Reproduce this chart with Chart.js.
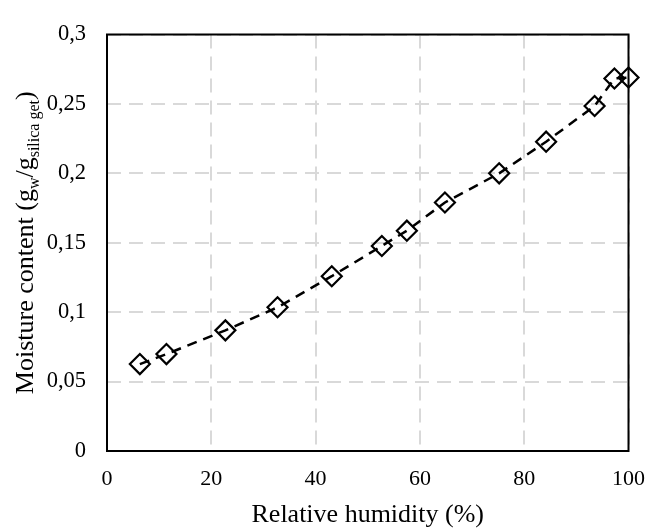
<!DOCTYPE html>
<html>
<head>
<meta charset="utf-8">
<script src="https://cdn.jsdelivr.net/npm/chart.js@4"></script>
<style>
  html, body { margin: 0; padding: 0; background: #fff; }
  #wrap { width: 660px; height: 528px; }
</style>
</head>
<body>
<div id="wrap"><canvas id="c" width="660" height="528"></canvas></div>
<script>
// Sorption isotherm of silica gel: relative humidity (%) vs. moisture content
const humidity = [6.3, 11.4, 22.7, 32.7, 43.1, 52.7, 57.5, 64.8, 75.2, 84.2, 93.5, 97.3, 100];
const moisture = [0.0626, 0.0698, 0.0869, 0.1035, 0.1259, 0.1477, 0.1587, 0.1790, 0.2000, 0.2228, 0.2485, 0.2683, 0.2690];

const xTickValues = [0, 20, 40, 60, 80, 100];
const xTickLabels = ['0', '20', '40', '60', '80', '100'];
const yTickValues = [0, 0.05, 0.1, 0.15, 0.2, 0.25, 0.3];
const yTickLabels = ['0', '0,05', '0,1', '0,15', '0,2', '0,25', '0,3'];

const xTitle = 'Relative humidity (%)';
// y-axis title pieces; "sub" pieces are drawn as subscripts
const yTitleParts = [
  { text: 'Moisture content (g', sub: false },
  { text: 'w', sub: true },
  { text: '/g', sub: false },
  { text: 'silica get', sub: true },
  { text: ')', sub: false }
];

const SERIF = '"Liberation Serif", "Times New Roman", serif';

// Black frame around the plotting area
const framePlugin = {
  id: 'frame',
  beforeDatasetsDraw(chart) {
    const { ctx, chartArea: a } = chart;
    ctx.save();
    ctx.strokeStyle = '#000';
    ctx.lineWidth = 2;
    ctx.strokeRect(a.left, a.top, a.right - a.left, a.bottom - a.top);
    ctx.restore();
  }
};

// Rotated y-axis title with subscripts
const yTitlePlugin = {
  id: 'yTitle',
  afterDraw(chart) {
    const { ctx, chartArea: a } = chart;
    const mainFont = '26px ' + SERIF;
    const subFont = '16px ' + SERIF;
    ctx.save();
    let total = 0;
    const widths = yTitleParts.map(p => {
      ctx.font = p.sub ? subFont : mainFont;
      const w = ctx.measureText(p.text).width;
      total += w;
      return w;
    });
    ctx.translate(33, (a.top + a.bottom) / 2);
    ctx.rotate(-Math.PI / 2);
    ctx.fillStyle = '#000';
    ctx.textAlign = 'left';
    ctx.textBaseline = 'alphabetic';
    let x = -total / 2;
    yTitleParts.forEach((p, i) => {
      ctx.font = p.sub ? subFont : mainFont;
      ctx.fillText(p.text, x, p.sub ? 6 : 0);
      x += widths[i];
    });
    ctx.restore();
  }
};

const gridColor = '#d9d9d9';

new Chart(document.getElementById('c'), {
  type: 'scatter',
  data: {
    datasets: [{
      data: humidity.map((h, i) => ({ x: h, y: moisture[i] })),
      showLine: true,
      borderColor: '#000',
      borderWidth: 2.5,
      borderDash: [10, 7],
      tension: 0,
      pointStyle: 'rectRot',
      pointRadius: 10,
      pointHoverRadius: 10,
      pointBorderWidth: 2.2,
      pointBorderColor: '#000',
      pointBackgroundColor: 'rgba(0,0,0,0)',
      clip: false
    }]
  },
  options: {
    responsive: false,
    animation: false,
    events: [],
    layout: { padding: { left: 0, top: 22, right: 30, bottom: 0 } },
    plugins: { legend: { display: false }, tooltip: { enabled: false } },
    scales: {
      x: {
        type: 'linear',
        min: 0,
        max: 100,
        afterBuildTicks: s => { s.ticks = xTickValues.map(v => ({ value: v })); },
        afterFit: s => { s.height = 77; },
        ticks: {
          padding: 15,
          color: '#000',
          maxRotation: 0,
          font: { family: SERIF, size: 22 },
          callback: (v, i) => xTickLabels[i]
        },
        grid: { color: gridColor, lineWidth: 2, drawTicks: false },
        border: { display: false, dash: [14, 8] },
        title: {
          display: true,
          text: xTitle,
          color: '#000',
          font: { family: SERIF, size: 26, lineHeight: 1.0 },
          padding: 0
        }
      },
      y: {
        type: 'linear',
        min: 0,
        max: 0.3,
        afterBuildTicks: s => { s.ticks = yTickValues.map(v => ({ value: v })); },
        afterFit: s => { s.width = 107; },
        ticks: {
          padding: 21,
          color: '#000',
          font: { family: SERIF, size: 22.5 },
          callback: (v, i) => yTickLabels[i]
        },
        grid: { color: gridColor, lineWidth: 2, drawTicks: false },
        border: { display: false, dash: [14, 8] }
      }
    }
  },
  plugins: [framePlugin, yTitlePlugin]
});
</script>
</body>
</html>
